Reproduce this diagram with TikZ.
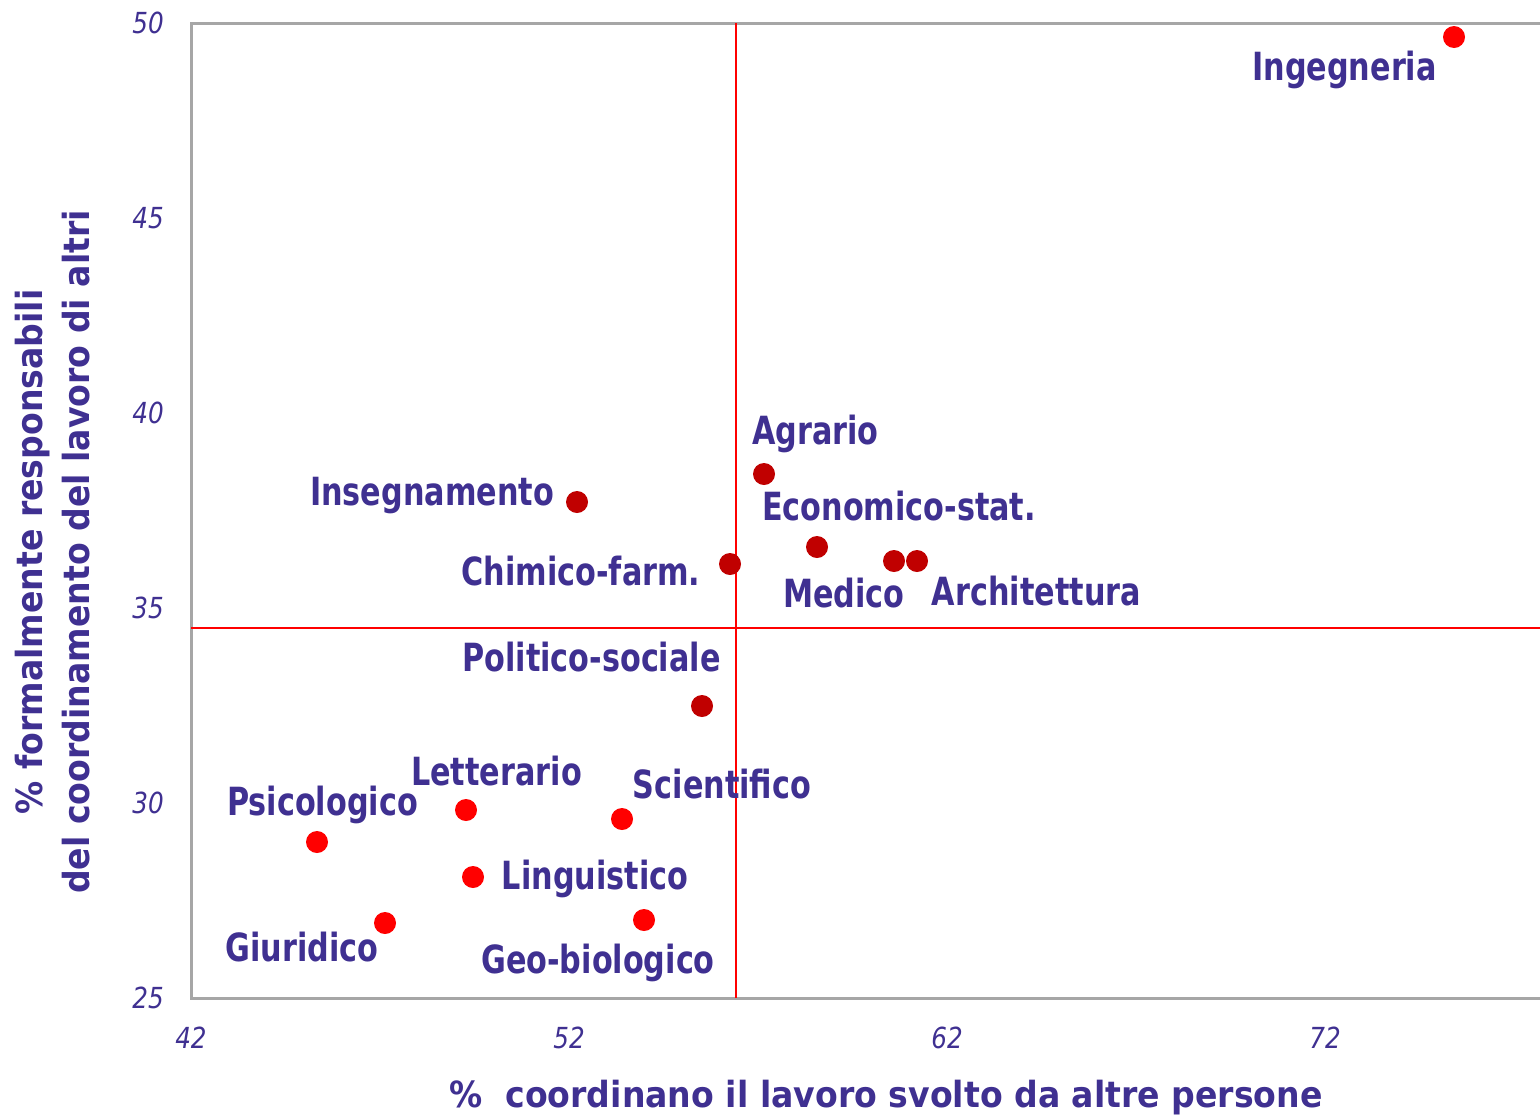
\documentclass[tikz,border=0pt]{standalone}
\usepackage{fontspec}
\newfontfamily\labfont[FakeStretch=0.78]{DejaVu Sans}
\newfontfamily\tickfont[FakeStretch=0.85]{DejaVu Sans}
\newfontfamily\titlefont[FakeStretch=0.92]{DejaVu Sans}
\definecolor{txt}{HTML}{3F3091}
\definecolor{dred}{HTML}{C00000}
\definecolor{bred}{HTML}{FF0000}
\definecolor{axgray}{HTML}{A6A6A6}
\tikzset{
  lab/.style={font=\labfont\bfseries\fontsize{38.8bp}{46bp}\selectfont, text=txt, inner sep=0pt, anchor=base},
  tick/.style={font=\tickfont\itshape\fontsize{29bp}{34bp}\selectfont, text=txt, inner sep=0pt},
  axtitle/.style={font=\titlefont\bfseries\fontsize{36bp}{42bp}\selectfont, text=txt, inner sep=0pt, anchor=base},
  dotA/.style={circle, fill=dred, inner sep=0pt, minimum size=22bp},
  dotB/.style={circle, fill=bred, inner sep=0pt, minimum size=22bp},
}
\begin{document}
\begin{tikzpicture}[x=1bp,y=-1bp]
\useasboundingbox (0,0) rectangle (1540,1118);
% axes frame
\coordinate (tr) at (1540,23);
\coordinate (tl) at (191,23);
\coordinate (bl) at (191,998);
\coordinate (br) at (1540,998);
\draw[axgray, line width=3bp] (tr) -- (tl) -- (bl) -- (br);
% quadrant lines
\coordinate (vt) at (736,23);
\coordinate (vb) at (736,998);
\coordinate (hl) at (191,628);
\coordinate (hr) at (1540,628);
\draw[bred, line width=2bp] (vt) -- (vb);
\draw[bred, line width=2bp] (hl) -- (hr);
% tick labels
\node[tick, anchor=east] (y50) at (164,23) {50};
\node[tick, anchor=east] (y45) at (164,218) {45};
\node[tick, anchor=east] (y40) at (164,413) {40};
\node[tick, anchor=east] (y35) at (164,608) {35};
\node[tick, anchor=east] (y30) at (164,803) {30};
\node[tick, anchor=east] (y25) at (164,998) {25};
\node[tick] (x42) at (191,1038) {42};
\node[tick] (x52) at (569,1038) {52};
\node[tick] (x62) at (947,1038) {62};
\node[tick] (x72) at (1325,1038) {72};
% axis titles
\node[axtitle] (xt) at (886,1107) {\%\ \ coordinano il lavoro svolto da altre persone};
\node[axtitle, rotate=90] (yt1) at (42,552) {\% formalmente responsabili};
\node[axtitle, rotate=90] (yt2) at (89,552) {del coordinamento del lavoro di altri};
% points
\node[dotB] (p1) at (1454,37) {};
\node[dotA] (p2) at (764,474) {};
\node[dotA] (p3) at (577,502) {};
\node[dotA] (p4) at (730,564) {};
\node[dotA] (p5) at (817,547) {};
\node[dotA] (p6) at (894,561) {};
\node[dotA] (p7) at (917,561) {};
\node[dotA] (p8) at (702,706) {};
\node[dotB] (p9) at (466,810) {};
\node[dotB] (p10) at (622,819) {};
\node[dotB] (p11) at (317,842) {};
\node[dotB] (p12) at (473,877) {};
\node[dotB] (p13) at (385,923) {};
\node[dotB] (p14) at (644,920) {};
% labels
\node[lab] (l1) at (1344.5,80) {Ingegneria};
\node[lab] (l2) at (815.5,444) {Agrario};
\node[lab] (l3) at (432,505) {Insegnamento};
\node[lab] (l4) at (581,585) {Chimico-farm.};
\node[lab] (l5) at (899,520) {Economico-stat.};
\node[lab] (l6) at (844,607) {Medico};
\node[lab] (l7) at (1036.5,605) {Architettura};
\node[lab] (l8) at (591.5,671) {Politico-sociale};
\node[lab] (l9) at (496.5,785) {Letterario};
\node[lab] (l10) at (722,798) {Scientifico};
\node[lab] (l11) at (322.5,815) {Psicologico};
\node[lab] (l12) at (595,889) {Linguistico};
\node[lab] (l13) at (302,961) {Giuridico};
\node[lab] (l14) at (598,973) {Geo-biologico};
\end{tikzpicture}
\end{document}
